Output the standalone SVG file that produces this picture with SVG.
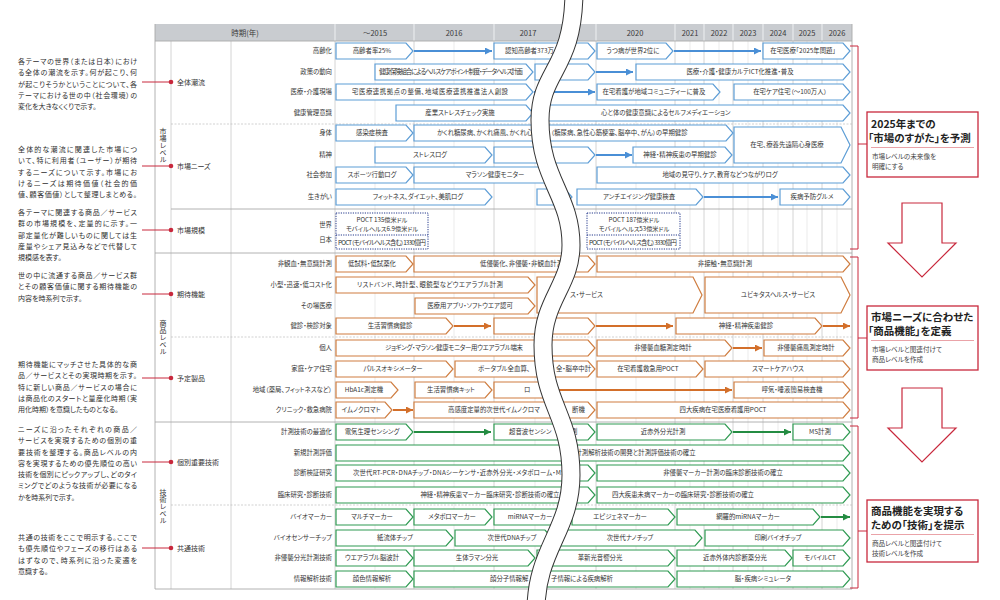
<svg xmlns="http://www.w3.org/2000/svg" width="1000" height="600" viewBox="0 0 1000 600">
<defs>
<style>
text{font-family:"Noto Sans CJK JP","Noto Sans",sans-serif;fill:#333;font-feature-settings:"palt"}
.n{font-size:7px;fill:#2e2e2e}
.l{font-size:6.4px;text-anchor:end}
.c{font-size:7px}
.t{font-size:6.4px}
.m{text-anchor:middle}
.h{font-size:7.5px;text-anchor:middle;fill:#3a3a3a}
.v{font-size:7px;writing-mode:vertical-rl;text-anchor:middle;font-feature-settings:normal}
.bx{fill:#fff;stroke-width:1.2}
.b{stroke:#5d9dd6}
.o{stroke:#cf7d40}
.g{stroke:#2f9a52}
.ab{stroke:#4a8fd6;stroke-width:2;fill:none;marker-end:url(#mb)}
.ao{stroke:#d36f2a;stroke-width:2;fill:none;marker-end:url(#mo)}
.ag{stroke:#248c42;stroke-width:2;fill:none;marker-end:url(#mg)}
.gm{stroke:#e2e2e2;stroke-width:0.7}
.gy{stroke:#c9c9c9;stroke-width:0.8}
.rd{stroke:#c8283c;stroke-width:1;fill:none}
.ds{stroke:#bdbdbd;stroke-width:0.7;stroke-dasharray:2 1.5}
.sl{stroke:#a9a9a9;stroke-width:0.9}
.dot{fill:#fff;stroke:#24398c;stroke-width:1;stroke-dasharray:1.2 1.2}
.pm{font-size:6.2px;text-anchor:middle}
.rb{fill:#fff;stroke:#c8283c;stroke-width:1.3}
.rt{font-size:10.5px;fill:#222;font-weight:bold}
.rs{font-size:6.6px;fill:#444}
</style>
<marker id="mb" viewBox="0 0 10 10" refX="10" refY="5" markerWidth="7" markerHeight="7" markerUnits="userSpaceOnUse" orient="auto"><path d="M0,0L10,5L0,10Z" fill="#4a8fd6"/></marker>
<marker id="mo" viewBox="0 0 10 10" refX="10" refY="5" markerWidth="7" markerHeight="7" markerUnits="userSpaceOnUse" orient="auto"><path d="M0,0L10,5L0,10Z" fill="#d36f2a"/></marker>
<marker id="mg" viewBox="0 0 10 10" refX="10" refY="5" markerWidth="7" markerHeight="7" markerUnits="userSpaceOnUse" orient="auto"><path d="M0,0L10,5L0,10Z" fill="#248c42"/></marker>
</defs>
<rect width="1000" height="600" fill="#fff"/>

<!-- left annotations -->
<g id="notes">
<text class="n" x="18" y="64" textLength="119">各テーマの世界（または日本）におけ</text>
<text class="n" x="18" y="75.2" textLength="119">る全体の潮流を示す。何が起こり、何</text>
<text class="n" x="18" y="86.5" textLength="119">が起こりそうかということについて、各</text>
<text class="n" x="18" y="97.7" textLength="119">テーマにおける世の中（社会環境）の</text>
<text class="n" x="18" y="109">変化を大きなくくりで示す。</text>

<text class="n" x="18" y="152" textLength="119">全体的な潮流に関連した市場につ</text>
<text class="n" x="18" y="163.3" textLength="119">いて、特に利用者（ユーザー）が期待</text>
<text class="n" x="18" y="174.5" textLength="119">するニーズについて示す。市場にお</text>
<text class="n" x="18" y="185.8" textLength="119">けるニーズは期待価値（社会的価</text>
<text class="n" x="18" y="197" textLength="119">値、顧客価値）として整理しまとめる。</text>

<text class="n" x="18" y="215" textLength="119">各テーマに関連する商品／サービス</text>
<text class="n" x="18" y="226.3" textLength="119">群の市場規模を、定量的に示す。一</text>
<text class="n" x="18" y="237.5" textLength="119">部定量化が難しいものに関しては生</text>
<text class="n" x="18" y="248.8" textLength="119">産量やシェア見込みなどで代替して</text>
<text class="n" x="18" y="260">規模感を表す。</text>

<text class="n" x="18" y="278" textLength="119">世の中に流通する商品／サービス群</text>
<text class="n" x="18" y="289.3" textLength="119">とその顧客価値に関する期待機能の</text>
<text class="n" x="18" y="300.5">内容を時系列で示す。</text>

<text class="n" x="18" y="367" textLength="119">期待機能にマッチさせた具体的な商</text>
<text class="n" x="18" y="378.3" textLength="119">品／サービスとその実現時期を示す。</text>
<text class="n" x="18" y="389.5" textLength="119">特に新しい商品／サービスの場合に</text>
<text class="n" x="18" y="400.8" textLength="119">は商品化のスタートと量産化時期（実</text>
<text class="n" x="18" y="412">用化時期）を意識したものとなる。</text>

<text class="n" x="18" y="432" textLength="119">ニーズに沿ったそれぞれの商品／</text>
<text class="n" x="18" y="443.3" textLength="119">サービスを実現するための個別の重</text>
<text class="n" x="18" y="454.5" textLength="119">要技術を整理する。商品レベルの内</text>
<text class="n" x="18" y="465.8" textLength="119">容を実現するための優先順位の高い</text>
<text class="n" x="18" y="477" textLength="119">技術を個別にピックアップし、どのタイ</text>
<text class="n" x="18" y="488.3" textLength="119">ミングでどのような技術が必要になる</text>
<text class="n" x="18" y="499.5">かを時系列で示す。</text>

<text class="n" x="18" y="540" textLength="119">共通の技術をここで明示する。ここで</text>
<text class="n" x="18" y="551.3" textLength="119">も優先順位やフェーズの移行はある</text>
<text class="n" x="18" y="562.5" textLength="119">はずなので、時系列に沿った変遷を</text>
<text class="n" x="18" y="573.8">意識する。</text>
</g>

<!-- table frame -->
<g id="table">
<rect x="155" y="24" width="697" height="17" fill="#c9ccd0"/>
<g stroke="#eef0f2" stroke-width="1">
<line x1="335" y1="24" x2="335" y2="41"/><line x1="414" y1="24" x2="414" y2="41"/><line x1="494" y1="24" x2="494" y2="41"/><line x1="596" y1="24" x2="596" y2="41"/><line x1="675" y1="24" x2="675" y2="41"/><line x1="704" y1="24" x2="704" y2="41"/><line x1="733" y1="24" x2="733" y2="41"/><line x1="763" y1="24" x2="763" y2="41"/><line x1="793" y1="24" x2="793" y2="41"/><line x1="822" y1="24" x2="822" y2="41"/>
</g>
<text class="h" x="245" y="35.5">時期(年)</text>
<text class="h" x="375" y="35.5">～2015</text>
<text class="h" x="454" y="35.5">2016</text>
<text class="h" x="528" y="35.5">2017</text>
<text class="h" x="635" y="35.5">2020</text>
<text class="h" x="690" y="35.5">2021</text>
<text class="h" x="719" y="35.5">2022</text>
<text class="h" x="748" y="35.5">2023</text>
<text class="h" x="778" y="35.5">2024</text>
<text class="h" x="807" y="35.5">2025</text>
<text class="h" x="837" y="35.5">2026</text>
<g class="gm">
<line x1="375" y1="41" x2="375" y2="589"/><line x1="454" y1="41" x2="454" y2="589"/><line x1="535" y1="41" x2="535" y2="589"/><line x1="636" y1="41" x2="636" y2="589"/><line x1="690" y1="41" x2="690" y2="589"/><line x1="719" y1="41" x2="719" y2="589"/><line x1="748" y1="41" x2="748" y2="589"/><line x1="778" y1="41" x2="778" y2="589"/><line x1="807" y1="41" x2="807" y2="589"/><line x1="837" y1="41" x2="837" y2="589"/>
</g>
<g class="gy">
<line x1="414" y1="41" x2="414" y2="589"/><line x1="494" y1="41" x2="494" y2="589"/><line x1="596" y1="41" x2="596" y2="589"/><line x1="675" y1="41" x2="675" y2="589"/><line x1="704" y1="41" x2="704" y2="589"/><line x1="733" y1="41" x2="733" y2="589"/><line x1="763" y1="41" x2="763" y2="589"/><line x1="793" y1="41" x2="793" y2="589"/><line x1="822" y1="41" x2="822" y2="589"/>
<line x1="171" y1="41" x2="171" y2="589"/><line x1="231" y1="41" x2="231" y2="589"/><line x1="335" y1="41" x2="335" y2="589"/>
</g>
<g class="sl">
<line x1="155" y1="24" x2="155" y2="589"/><line x1="852" y1="24" x2="852" y2="589"/>
<line x1="155" y1="41" x2="852" y2="41"/><line x1="155" y1="589" x2="852" y2="589"/>
<line x1="155" y1="253" x2="852" y2="253"/><line x1="155" y1="422" x2="852" y2="422"/>
<line x1="171" y1="209" x2="852" y2="209"/>
</g>
<g class="ds">
<line x1="171" y1="124" x2="852" y2="124"/><line x1="171" y1="337" x2="852" y2="337"/><line x1="171" y1="505" x2="852" y2="505"/>
</g>
<text class="v" x="163" y="145">市場レベル</text>
<text class="v" x="163" y="337">商品レベル</text>
<text class="v" x="163" y="506">技術レベル</text>
</g>

<!-- categories -->
<g id="categories">
<g class="rd">
<line x1="142" y1="82" x2="171" y2="82"/><line x1="142" y1="166" x2="171" y2="166"/><line x1="142" y1="230" x2="171" y2="230"/><line x1="142" y1="294" x2="171" y2="294"/><line x1="142" y1="378" x2="171" y2="378"/><line x1="142" y1="462" x2="171" y2="462"/><line x1="142" y1="548" x2="171" y2="548"/>
</g>
<g fill="#c8283c">
<circle cx="171" cy="82" r="2.3"/><circle cx="171" cy="166" r="2.3"/><circle cx="171" cy="230" r="2.3"/><circle cx="171" cy="294" r="2.3"/><circle cx="171" cy="378" r="2.3"/><circle cx="171" cy="462" r="2.3"/><circle cx="171" cy="548" r="2.3"/>
</g>
<text class="c" x="177" y="84.5">全体潮流</text>
<text class="c" x="177" y="168.5">市場ニーズ</text>
<text class="c" x="177" y="232.5">市場規模</text>
<text class="c" x="177" y="296.5">期待機能</text>
<text class="c" x="177" y="380.5">予定製品</text>
<text class="c" x="177" y="464.5">個別重要技術</text>
<text class="c" x="177" y="550.5">共通技術</text>
</g>

<!-- row labels -->
<g id="rowlabels">
<text class="l" x="332" y="53.2">高齢化</text>
<text class="l" x="332" y="74.2">政策の動向</text>
<text class="l" x="332" y="94.2">医療・介護現場</text>
<text class="l" x="332" y="115.2">健康管理意識</text>
<text class="l" x="332" y="135.2">身体</text>
<text class="l" x="332" y="157.2">精神</text>
<text class="l" x="332" y="177.2">社会参加</text>
<text class="l" x="332" y="199.2">生きがい</text>
<text class="l" x="332" y="227.2">世界</text>
<text class="l" x="332" y="242.2">日本</text>
<text class="l" x="332" y="266.2">非観血・無意識計測</text>
<text class="l" x="332" y="287.2">小型・迅速・低コスト化</text>
<text class="l" x="332" y="308.2">その場医療</text>
<text class="l" x="332" y="328.2">健診・検診対象</text>
<text class="l" x="332" y="350.2">個人</text>
<text class="l" x="332" y="371.2">家庭・ケア住宅</text>
<text class="l" x="332" y="392.2">地域（薬局、フィットネスなど）</text>
<text class="l" x="332" y="412.2">クリニック・救急病院</text>
<text class="l" x="332" y="434.2">計測技術の最適化</text>
<text class="l" x="332" y="455.2">新規計測評価</text>
<text class="l" x="332" y="475.2">診断検証研究</text>
<text class="l" x="332" y="497.2">臨床研究・診断技術</text>
<text class="l" x="332" y="519.2">バイオマーカー</text>
<text class="l" x="332" y="540.2">バイオセンサーチップ</text>
<text class="l" x="332" y="560.2">非侵襲分光計測技術</text>
<text class="l" x="332" y="581.2">情報解析技術</text>
</g>

<!-- connectors -->
<g id="connectors">
<path class="ab" d="M414,51H492"/>
<path class="ab" d="M674,51H761"/>
<path class="ab" d="M596,72H633"/>
<path class="ab" d="M534,92H595"/>
<path class="ab" d="M596,155H632"/>
<path class="ab" d="M704,197H778"/>
<path class="ao" d="M454,326H491"/>
<path class="ao" d="M596,326H673"/>
<path class="ao" d="M823,326H850"/>
<path class="ao" d="M733,348H762"/>
<path class="ao" d="M557,390H732"/>
<path class="ao" d="M393,410H413"/>
<path class="ag" d="M414,432H491"/>
<path class="ag" d="M733,432H791"/>
<path class="ag" d="M821,517H850"/>
</g>

<!-- market level (blue) -->
<g id="n01"><path class="bx b" d="M336,43H406L413,51L406,59H336Z"/><text class="t m" x="372" y="53.2">高齢者率25%</text></g>
<g id="n02"><path class="bx b" d="M494,43H588L595,51L588,59H494Z"/><text class="t" x="505" y="53.2">認知高齢者373万</text></g>
<g id="n03"><path class="bx b" d="M597,43H666L673,51L666,59H597Z"/><text class="t m" x="633" y="53.2">うつ病が世界2位に</text></g>
<g id="n04"><path class="bx b" d="M763,43H843L850,51L843,59H763Z"/><text class="t m" x="803" y="53.2">在宅医療「2025年問題」</text></g>
<g id="n05"><path class="bx b" d="M375,64H526L533,72L526,80H375Z"/><text class="t" x="379" y="74" font-size="5.4" textLength="144">健康保険組合によるヘルスケアポイント制度・データヘルス計画</text></g>
<g id="n06"><path class="bx b" d="M535,64H588L595,72L588,80H535Z"/></g>
<g id="n07"><path class="bx b" d="M636,64H843L850,72L843,80H636Z"/><text class="t m" x="740" y="74.2">医療・介護・健康カルテICT化推進・普及</text></g>
<g id="n08"><path class="bx b" d="M336,84H526L533,92L526,100H336Z"/><text class="t" x="352" y="94.2" textLength="156">宅医療連携拠点の整備、地域医療連携推進法人創設</text></g>
<g id="n09"><path class="bx b" d="M597,84H713L720,92L713,100H597Z"/><text class="t m" x="654" y="94.2">在宅看護が地域コミュニティーに普及</text></g>
<g id="n10"><path class="bx b" d="M734,84H843L850,92L843,100H734Z"/><text class="t m" x="790" y="94.2">在宅ケア住宅（～100万人）</text></g>
<g id="n11"><path class="bx b" d="M396,105H526L533,113L526,121H396Z"/><text class="t m" x="460" y="115.2">産業ストレスチェック実施</text></g>
<g id="n12"><path class="bx b" d="M535,105H843L850,113L843,121H535Z"/><text class="t" x="601" y="115.2">心と体の健康意識によるセルフメディエーション</text></g>
<g id="n13"><path class="bx b" d="M336,125H406L413,133L406,141H336Z"/><text class="t m" x="372" y="135.2">感染症検査</text></g>
<g id="n14"><path class="bx b" d="M414,125H726L733,133L726,141H414Z"/><text class="t" x="437" y="135.2">かくれ糖尿病、かくれ痛風、かくれ心</text><text class="t" x="551" y="135.2">（糖尿病、急性心筋梗塞、脳卒中、がん）の早期健診</text></g>
<g id="n15"><path class="bx b" d="M734,127H841L850,145L841,163H734Z"/><text class="t m" x="787" y="147.2">在宅、療養先遠隔心身医療</text></g>
<g id="n16"><path class="bx b" d="M375,147H485L492,155L485,163H375Z"/><text class="t m" x="430" y="157.2">ストレスログ</text></g>
<g id="n17"><path class="bx b" d="M494,147H588L595,155L588,163H494Z"/></g>
<g id="n18"><path class="bx b" d="M633,147H725L732,155L725,163H633Z"/><text class="t m" x="680" y="157.2">神経・精神疾患の早期健診</text></g>
<g id="n19"><path class="bx b" d="M336,167H406L413,175L406,183H336Z"/><text class="t m" x="372" y="177.2">スポーツ行動ログ</text></g>
<g id="n20"><path class="bx b" d="M414,167H553L560,175L553,183H414Z"/><text class="t m" x="495" y="177.2">マラソン健康モニター</text></g>
<g id="n21"><path class="bx b" d="M597,167H843L850,175L843,183H597Z"/><text class="t m" x="720" y="177.2">地域の見守り、ケア、教育などつながりログ</text></g>
<g id="n22"><path class="bx b" d="M336,189H485L492,197L485,205H336Z"/><text class="t m" x="418" y="199.2">フィットネス、ダイエット、美肌ログ</text></g>
<g id="n23"><path class="bx b" d="M537,189H565L572,197L565,205H537Z"/></g>
<g id="n24"><path class="bx b" d="M577,189H696L703,197L696,205H577Z"/><text class="t m" x="639" y="199.2">アンチエイジング健康検査</text></g>
<g id="n25"><path class="bx b" d="M780,189H843L850,197L843,205H780Z"/><text class="t m" x="812" y="199.2">疾病予防グルメ</text></g>
<g id="n26"><rect class="dot" x="336" y="213" width="92" height="36"/><line class="dot" x1="336" y1="235" x2="428" y2="235"/>
<text class="pm" x="382" y="222">POCT 135億米ドル</text><text class="pm" x="382" y="231">モバイルヘルス6.9億米ドル</text><text class="t" x="338" y="244.5" font-size="5.4" textLength="88">POCT（モバイルヘルス含む）1330億円</text></g>
<g id="n27"><rect class="dot" x="587" y="213" width="93" height="36"/><line class="dot" x1="587" y1="235" x2="680" y2="235"/>
<text class="pm" x="634" y="222">POCT 187億米ドル</text><text class="pm" x="634" y="231">モバイルヘルス53億米ドル</text><text class="t" x="589" y="244.5" font-size="5.4" textLength="88">POCT（モバイルヘルス含む）3330億円</text></g>

<!-- product level (orange) -->
<g id="n28"><path class="bx o" d="M336,256H406L413,264L406,272H336Z"/><text class="t m" x="372" y="266.2">低試料・低試薬化</text></g>
<g id="n29"><path class="bx o" d="M414,256H588L595,264L588,272H414Z"/><text class="t" x="480" y="266.2">低侵襲化、非侵襲・非観血計測</text></g>
<g id="n30"><path class="bx o" d="M597,256H843L850,264L843,272H597Z"/><text class="t m" x="725" y="266.2">非接触・無意識計測</text></g>
<g id="n31"><path class="bx o" d="M336,277H528L535,285L528,293H336Z"/><text class="t" x="357" y="287.2" textLength="146">リストバンド、時計型、眼鏡型などウエアラブル計測</text></g>
<g id="n32"><path class="bx o" d="M537,277H693L702,295L693,313H537Z"/><text class="t" x="570" y="297.2">ス・サービス</text></g>
<g id="n33"><path class="bx o" d="M705,277H841L850,295L841,313H705Z"/><text class="t m" x="778" y="297.2">ユビキタスヘルス・サービス</text></g>
<g id="n34"><path class="bx o" d="M415,298H528L535,306L528,314H415Z"/><text class="t m" x="470" y="308.2">医療用アプリ・ソフトウエア認可</text></g>
<g id="n35"><path class="bx o" d="M336,318H446L453,326L446,334H336Z"/><text class="t m" x="390" y="328.2">生活習慣病健診</text></g>
<g id="n36"><path class="bx o" d="M494,318H588L595,326L588,334H494Z"/></g>
<g id="n37"><path class="bx o" d="M676,318H815L822,326L815,334H676Z"/><text class="t m" x="746" y="328.2">神経・精神疾患健診</text></g>
<g id="n38"><path class="bx o" d="M336,340H588L595,348L588,356H336Z"/><text class="t" x="385" y="350.2" textLength="138">ジョギング・マラソン健康モニター用ウエアラブル端末</text></g>
<g id="n39"><path class="bx o" d="M597,340H725L732,348L725,356H597Z"/><text class="t m" x="663" y="350.2">非侵襲血糖測定時計</text></g>
<g id="n40"><path class="bx o" d="M764,340H843L850,348L843,356H764Z"/><text class="t m" x="806" y="350.2">非侵襲痛風測定時計</text></g>
<g id="n41"><path class="bx o" d="M336,361H446L453,369L446,377H336Z"/><text class="t m" x="393" y="371.2">パルスオキシメーター</text></g>
<g id="n42"><path class="bx o" d="M455,361H588L595,369L588,377H455Z"/><text class="t" x="478" y="371.2">ポータブル全血算、</text><text class="t" x="556" y="371.2">全・脳卒中計</text></g>
<g id="n43"><path class="bx o" d="M597,361H696L703,369L696,377H597Z"/><text class="t m" x="648" y="371.2">在宅看護救急用POCT</text></g>
<g id="n44"><path class="bx o" d="M705,361H843L850,369L843,377H705Z"/><text class="t m" x="778" y="371.2">スマートケアハウス</text></g>
<g id="n45"><path class="bx o" d="M336,382H391L398,390L391,398H336Z"/><text class="t m" x="364" y="392.2">HbA1c測定機</text></g>
<g id="n46"><path class="bx o" d="M415,382H485L492,390L485,398H415Z"/><text class="t m" x="451" y="392.2">生活習慣病キット</text></g>
<g id="n47"><path class="bx o" d="M494,382H549L556,390L549,398H494Z"/><text class="t" x="524" y="392.2">ロ</text></g>
<g id="n48"><path class="bx o" d="M734,382H843L850,390L843,398H734Z"/><text class="t m" x="792" y="392.2">呼気・唾液簡易検査機</text></g>
<g id="n49"><path class="bx o" d="M336,402H385L392,410L385,418H336Z"/><text class="t m" x="361" y="412.2">イムノクロマト</text></g>
<g id="n50"><path class="bx o" d="M414,402H588L595,410L588,418H414Z"/><text class="t" x="448" y="412.2">高感度定量的次世代イムノクロマ</text><text class="t" x="572" y="412.2">断機</text></g>
<g id="n51"><path class="bx o" d="M597,402H843L850,410L843,418H597Z"/><text class="t m" x="723" y="412.2">四大疾病在宅医療看護用POCT</text></g>

<!-- technology level (green) -->
<g id="n52"><path class="bx g" d="M336,424H406L413,432L406,440H336Z"/><text class="t m" x="372" y="434.2">電気生理センシング</text></g>
<g id="n53"><path class="bx g" d="M494,424H588L595,432L588,440H494Z"/><text class="t" x="509" y="434.2">超音波センシン</text><text class="t" x="571" y="434.2">測</text></g>
<g id="n54"><path class="bx g" d="M597,424H725L732,432L725,440H597Z"/><text class="t m" x="663" y="434.2">近赤外分光計測</text></g>
<g id="n55"><path class="bx g" d="M793,424H843L850,432L843,440H793Z"/><text class="t m" x="820" y="434.2">MS計測</text></g>
<g id="n56"><path class="bx g" d="M336,445H843L850,453L843,461H336Z"/><text class="t" x="569" y="455.2">量計測解析技術の開発と計測評価技術の確立</text></g>
<g id="n57"><path class="bx g" d="M336,465H588L595,473L588,481H336Z"/><text class="t" x="353" y="475.2" textLength="212">次世代RT-PCR・DNAチップ・DNAシーケンサ・近赤外分光・メタボローム・MS</text></g>
<g id="n58"><path class="bx g" d="M597,465H843L850,473L843,481H597Z"/><text class="t m" x="723" y="475.2">非侵襲マーカー計測の臨床診断技術の確立</text></g>
<g id="n59"><path class="bx g" d="M336,487H588L595,495L588,503H336Z"/><text class="t m" x="490" y="497.2">神経・精神疾患マーカー臨床研究・診断技術の確立</text></g>
<g id="n60"><path class="bx g" d="M597,487H843L850,495L843,503H597Z"/><text class="t" x="612" y="497.2">四大疾患未病マーカーの臨床研究・診断技術の確立</text></g>
<g id="n61"><path class="bx g" d="M336,509H406L413,517L406,525H336Z"/><text class="t m" x="372" y="519.2">マルチマーカー</text></g>
<g id="n62"><path class="bx g" d="M414,509H485L492,517L485,525H414Z"/><text class="t m" x="452" y="519.2">メタボロマーカー</text></g>
<g id="n63"><path class="bx g" d="M494,509H561L568,517L561,525H494Z"/><text class="t m" x="530" y="519.2">miRNAマーカー</text></g>
<g id="n64"><path class="bx g" d="M572,509H668L675,517L668,525H572Z"/><text class="t m" x="620" y="519.2">エピジェネマーカー</text></g>
<g id="n65"><path class="bx g" d="M677,509H813L820,517L813,525H677Z"/><text class="t m" x="748" y="519.2">網羅的miRNAマーカー</text></g>
<g id="n66"><path class="bx g" d="M336,530H446L453,538L446,546H336Z"/><text class="t m" x="395" y="540.2">紙流体チップ</text></g>
<g id="n67"><path class="bx g" d="M455,530H545L552,538L545,546H455Z"/><text class="t m" x="512" y="540.2">次世代DNAチップ</text></g>
<g id="n68"><path class="bx g" d="M560,530H695L702,538L695,546H560Z"/><text class="t m" x="630" y="540.2">次世代ナノチップ</text></g>
<g id="n69"><path class="bx g" d="M705,530H843L850,538L843,546H705Z"/><text class="t m" x="778" y="540.2">印刷バイオチップ</text></g>
<g id="n70"><path class="bx g" d="M336,550H406L413,558L406,566H336Z"/><text class="t m" x="372" y="560.2">ウエアラブル脳波計</text></g>
<g id="n71"><path class="bx g" d="M414,550H528L535,558L528,566H414Z"/><text class="t m" x="477" y="560.2">生体ラマン分光</text></g>
<g id="n72"><path class="bx g" d="M537,550H668L675,558L668,566H537Z"/><text class="t m" x="600" y="560.2">革新光音響分光</text></g>
<g id="n73"><path class="bx g" d="M677,550H785L792,558L785,566H677Z"/><text class="t m" x="735" y="560.2">近赤外体内診断薬分光</text></g>
<g id="n74"><path class="bx g" d="M793,550H843L850,558L843,566H793Z"/><text class="t m" x="820" y="560.2">モバイルCT</text></g>
<g id="n75"><path class="bx g" d="M336,571H406L413,579L406,587H336Z"/><text class="t m" x="372" y="581.2">顔色情報解析</text></g>
<g id="n76"><path class="bx g" d="M414,571H668L675,579L668,587H414Z"/><text class="t" x="490" y="581.2">顔分子情報解</text><text class="t" x="551" y="581.2">子情報による疾病解析</text></g>
<g id="n77"><path class="bx g" d="M677,571H843L850,579L843,587H677Z"/><text class="t m" x="763" y="581.2">脳・疾病シミュレータ</text></g>

<!-- time break -->
<g id="break">
<path d="M574,-10 C574,70 540,70 540,120 C540,180 571,195 571,245 C571,285 543,300 543,345 C543,405 571,415 571,475 C571,530 536,550 536,610" fill="none" stroke="#333" stroke-width="19"/>
<path d="M574,-10 C574,70 540,70 540,120 C540,180 571,195 571,245 C571,285 543,300 543,345 C543,405 571,415 571,475 C571,530 536,550 536,610" fill="none" stroke="#fff" stroke-width="17"/>
</g>

<!-- right side -->
<g id="brackets" class="rd">
<path d="M850,46H858V249H850"/><path d="M858,144H867"/>
<path d="M850,257H858V418H850"/><path d="M858,338H867"/>
<path d="M850,426H858V588H850"/><path d="M858,531H867"/>
</g>
<g id="box1"><rect class="rb" x="867" y="112" width="111" height="65"/>
<text class="rt" x="871" y="128">2025年までの</text><text class="rt" x="868" y="142">「市場のすがた」を予測</text>
<line x1="871" y1="147.5" x2="974" y2="147.5" stroke="#eaa3a8" stroke-width="1"/>
<text class="rs" x="872" y="158.5">市場レベルの未来像を</text><text class="rs" x="872" y="168.5">明確にする</text></g>
<g id="arrow1"><path d="M902,203H942V243H956L922,277L888,243H902Z" fill="#fff" stroke="#c8283c" stroke-width="1.2"/></g>
<g id="box2"><rect class="rb" x="867" y="306" width="111" height="64"/>
<text class="rt" x="871" y="321">市場ニーズに合わせた</text><text class="rt" x="868" y="335">「商品機能」を定義</text>
<line x1="871" y1="340.5" x2="974" y2="340.5" stroke="#eaa3a8" stroke-width="1"/>
<text class="rs" x="872" y="351.5">市場レベルと関連付けて</text><text class="rs" x="872" y="361.5">商品レベルを作成</text></g>
<g id="arrow2"><path d="M902,388H942V428H956L922,462L888,428H902Z" fill="#fff" stroke="#c8283c" stroke-width="1.2"/></g>
<g id="box3"><rect class="rb" x="867" y="500" width="111" height="62"/>
<text class="rt" x="871" y="515">商品機能を実現する</text><text class="rt" x="871" y="529">ための「技術」を提示</text>
<line x1="871" y1="534.5" x2="974" y2="534.5" stroke="#eaa3a8" stroke-width="1"/>
<text class="rs" x="872" y="545.5">商品レベルと関連付けて</text><text class="rs" x="872" y="555.5">技術レベルを作成</text></g>
</svg>
